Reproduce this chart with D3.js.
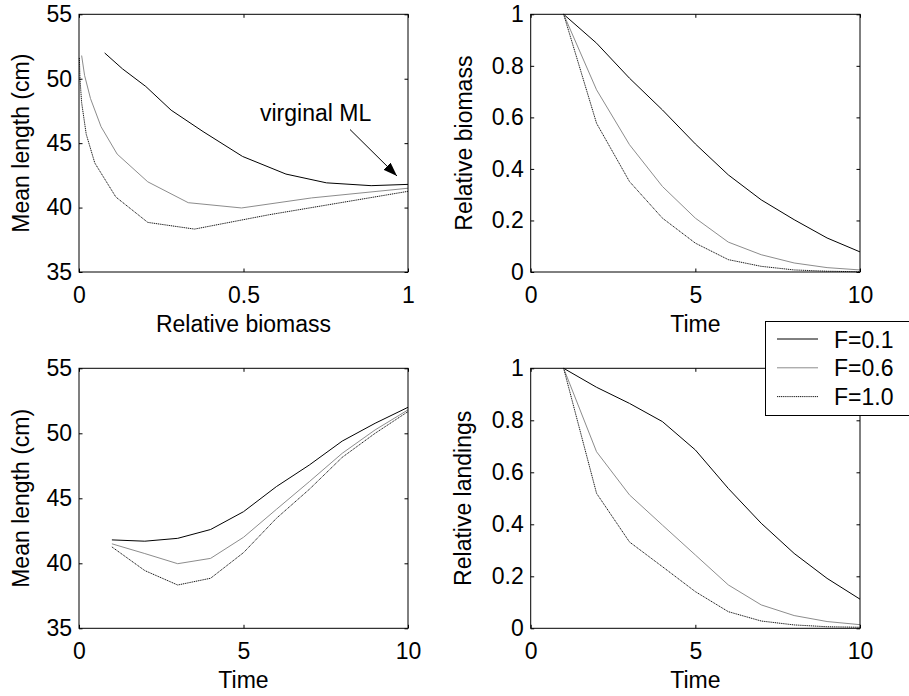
<!DOCTYPE html>
<html lang="en">
<head>
<meta charset="UTF-8">
<title>Mean length, biomass and landings</title>
<script src="https://d3js.org/d3.v7.min.js"></script>
<style>
    body { margin: 0; background: #fff; }
    svg { display: block; }
    text { font-family: "Liberation Sans", Arial, sans-serif; font-size: 23px; fill: #000; }
    .tick line { stroke: #000; }
</style>
</head>
<body>
<svg id="canvas" width="909" height="696"></svg>
<script>
// time steps and fishing mortality scenarios
const times = [1, 2, 3, 4, 5, 6, 7, 8, 9, 10];
const fLabels = ["F=0.1", "F=0.6", "F=1.0"];

// relative biomass by time
const biomass01 = [1, 0.888, 0.752, 0.629, 0.497, 0.377, 0.280, 0.203, 0.132, 0.078];
const biomass06 = [1, 0.707, 0.494, 0.332, 0.209, 0.116, 0.067, 0.035, 0.017, 0.008];
const biomass10 = [1, 0.577, 0.351, 0.209, 0.112, 0.048, 0.022, 0.008, 0.003, 0.001];

// mean length (cm) by time
const meanLen01 = [41.8, 41.7, 41.92, 42.6, 43.97, 45.9, 47.56, 49.4, 50.77, 52.0];
const meanLen06 = [41.5, 40.75, 39.97, 40.38, 42.0, 44.15, 46.28, 48.46, 50.26, 51.8];
const meanLen10 = [41.26, 39.44, 38.33, 38.85, 40.82, 43.46, 45.69, 48.15, 50.0, 51.67];

// relative landings by time
const landings01 = [1, 0.927, 0.865, 0.795, 0.686, 0.538, 0.404, 0.288, 0.192, 0.112];
const landings06 = [1, 0.679, 0.513, 0.397, 0.282, 0.167, 0.090, 0.049, 0.026, 0.014];
const landings10 = [1, 0.519, 0.332, 0.237, 0.141, 0.064, 0.028, 0.013, 0.006, 0.004];

const lenTicks = [35, 40, 45, 50, 55];
const relTicks = [0, 0.2, 0.4, 0.6, 0.8, 1];
const timeTicks = [0, 5, 10];
const biomassTicks = [0, 0.5, 1];

const styles = [
    {stroke: "#000", dash: null},
    {stroke: "#8c8c8c", dash: null},
    {stroke: "#1a1a1a", dash: "1.2,0.7"}
];

const biomass = [biomass01, biomass06, biomass10];
const meanLen = [meanLen01, meanLen06, meanLen10];
const landings = [landings01, landings06, landings10];

const svg = d3.select("#canvas");

const panels = [
    {x0: 79, x1: 408, y0: 14.3, y1: 272, xd: [0, 1], yd: [35, 55], xt: biomassTicks, yt: lenTicks,
     xlab: "Relative biomass", ylab: "Mean length (cm)", ylabX: 29,
     series: biomass.map((b, i) => b.map((v, k) => [v, meanLen[i][k]]))},
    {x0: 530.7, x1: 860, y0: 14.3, y1: 272, xd: [0, 10], yd: [0, 1], xt: timeTicks, yt: relTicks,
     xlab: "Time", ylab: "Relative biomass", ylabX: 472,
     series: biomass.map(b => b.map((v, k) => [times[k], v]))},
    {x0: 79, x1: 408, y0: 368.3, y1: 628.3, xd: [0, 10], yd: [35, 55], xt: timeTicks, yt: lenTicks,
     xlab: "Time", ylab: "Mean length (cm)", ylabX: 29,
     series: meanLen.map(m => m.map((v, k) => [times[k], v]))},
    {x0: 530.7, x1: 860, y0: 368.3, y1: 628.3, xd: [0, 10], yd: [0, 1], xt: timeTicks, yt: relTicks,
     xlab: "Time", ylab: "Relative landings", ylabX: 471,
     series: landings.map(l => l.map((v, k) => [times[k], v]))}
];

const fmt = d => String(d);

panels.forEach(function (p) {
    let x = d3.scaleLinear().domain(p.xd).range([p.x0, p.x1]);
    let y = d3.scaleLinear().domain(p.yd).range([p.y1, p.y0]);
    let g = svg.append("g");

    let line = d3.line().x(d => x(d[0])).y(d => y(d[1]));
    p.series.forEach(function (s, i) {
        g.append("path")
            .attr("d", line(s))
            .attr("fill", "none")
            .attr("stroke", styles[i].stroke)
            .attr("stroke-width", 1)
            .attr("stroke-dasharray", styles[i].dash);
    });

    // inward ticks on all four sides
    let bottom = g.append("g").attr("transform", `translate(0,${p.y1})`)
        .call(d3.axisBottom(x).tickValues(p.xt).tickFormat(fmt).tickSizeInner(-3.5).tickSizeOuter(0).tickPadding(14.5));
    let left = g.append("g").attr("transform", `translate(${p.x0},0)`)
        .call(d3.axisLeft(y).tickValues(p.yt).tickFormat(fmt).tickSizeInner(-3.5).tickSizeOuter(0).tickPadding(7));
    let top = g.append("g").attr("transform", `translate(0,${p.y0})`)
        .call(d3.axisTop(x).tickValues(p.xt).tickFormat("").tickSizeInner(-3.5).tickSizeOuter(0));
    let right = g.append("g").attr("transform", `translate(${p.x1},0)`)
        .call(d3.axisRight(y).tickValues(p.yt).tickFormat("").tickSizeInner(-3.5).tickSizeOuter(0));
    [bottom, left, top, right].forEach(a => {
        a.select(".domain").remove();
        a.selectAll("text").attr("font-size", null).attr("font-family", null);
    });

    g.append("rect")
        .attr("x", p.x0).attr("y", p.y0)
        .attr("width", p.x1 - p.x0).attr("height", p.y1 - p.y0)
        .attr("fill", "none").attr("stroke", "#000").attr("stroke-width", 1);

    g.append("text")
        .attr("x", (p.x0 + p.x1) / 2).attr("y", p.y1 + 60)
        .attr("text-anchor", "middle")
        .text(p.xlab);

    g.append("text")
        .attr("transform", `translate(${p.ylabX},${(p.y0 + p.y1) / 2}) rotate(-90)`)
        .attr("text-anchor", "middle")
        .text(p.ylab);

    p.xs = x; p.ys = y;
});

// annotation in the first panel
let tl = panels[0];
let defs = svg.append("defs");
defs.append("marker")
    .attr("id", "head")
    .attr("viewBox", "0 0 14 10")
    .attr("refX", 14).attr("refY", 5)
    .attr("markerWidth", 14).attr("markerHeight", 10)
    .attr("markerUnits", "userSpaceOnUse")
    .attr("orient", "auto")
    .append("path").attr("d", "M0,0L14,5L0,10Z").attr("fill", "#000");

svg.append("text").attr("x", 260).attr("y", 121).text("virginal ML");
svg.append("line")
    .attr("x1", 350).attr("y1", 129.5)
    .attr("x2", 397).attr("y2", 176)
    .attr("stroke", "#000").attr("stroke-width", 1)
    .attr("marker-end", "url(#head)");

// legend
let legend = svg.append("g").attr("transform", "translate(765,321)");
legend.append("rect")
    .attr("x", 0.5).attr("y", 0.5).attr("width", 160).attr("height", 94)
    .attr("fill", "#fff").attr("stroke", "#000");
fLabels.forEach(function (lab, i) {
    let ly = 18 + i * 28.8;
    legend.append("line")
        .attr("x1", 12).attr("x2", 53).attr("y1", ly).attr("y2", ly)
        .attr("stroke", styles[i].stroke).attr("stroke-width", 1)
        .attr("stroke-dasharray", styles[i].dash);
    legend.append("text").attr("x", 69).attr("y", ly + 8.5).text(lab);
});
</script>
</body>
</html>
